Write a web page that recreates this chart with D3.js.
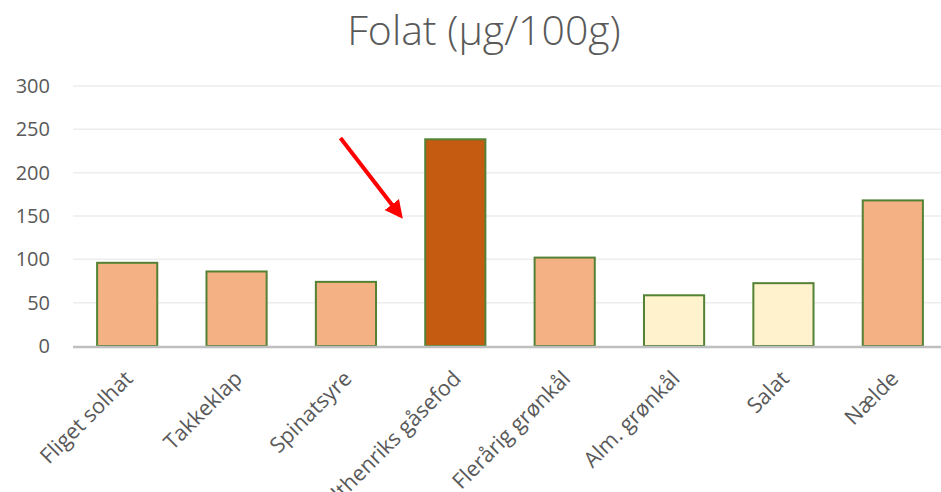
<!DOCTYPE html>
<html>
<head>
<meta charset="utf-8">
<script src="https://cdn.jsdelivr.net/npm/d3@7"></script>
<style>
  body { margin: 0; background: #fff; }
  svg { font-family: "Open Sans", Lato, sans-serif; }
  .tick text { fill: #595959; font-family: "Open Sans", Lato, sans-serif; }
</style>
</head>
<body>
<svg width="941" height="492"></svg>
<script>
var categories = ["Fliget solhat", "Takkeklap", "Spinatsyre", "Stolthenriks gåsefod",
    "Flerårig grønkål", "Alm. grønkål", "Salat", "Nælde"];
var values = [96, 86, 74, 238.5, 102, 58.5, 72.5, 168];
var groups = ["wild", "wild", "wild", "focus", "wild", "cult", "cult", "wild"];
var yTicks = [0, 50, 100, 150, 200, 250, 300];
var title = "Folat (µg/100g)";
// arrow annotation, in data terms: [category position, value]
var arrowFrom = [2.45, 240];
var arrowTo = [3.0, 150];

var fills = { wild: "#F4B183", focus: "#C55A11", cult: "#FFF2CC" };

var svg = d3.select("svg");

var x = d3.scaleBand()
    .domain(categories)
    .range([72.5, 947.5])
    .paddingInner(0.45)
    .paddingOuter(0.225);

var y = d3.scaleLinear()
    .domain([0, 300])
    .range([346, 86]);

svg.append("text")
    .attr("x", 484)
    .attr("y", 45)
    .attr("text-anchor", "middle")
    .style("font-size", "41px")
    .style("font-weight", 300)
    .style("fill", "#595959")
    .text(title);

// grid
svg.append("g")
    .selectAll("line")
    .data(yTicks.slice(1))
    .join("line")
    .attr("x1", 73)
    .attr("x2", 941)
    .attr("y1", function(d) { return y(d); })
    .attr("y2", function(d) { return y(d); })
    .style("stroke", "#EDEDED")
    .style("stroke-width", 1.5);

var yAxis = svg.append("g")
    .attr("transform", "translate(73,0)")
    .call(d3.axisLeft(y).tickValues(yTicks).tickSize(0).tickPadding(23));
yAxis.select(".domain").remove();
yAxis.selectAll("text").style("font-size", "20px");

svg.append("g")
    .selectAll("rect")
    .data(values)
    .join("rect")
    .attr("x", function(d, i) { return x(categories[i]); })
    .attr("y", function(d) { return y(d); })
    .attr("width", x.bandwidth())
    .attr("height", function(d) { return y(0) - y(d); })
    .style("fill", function(d, i) { return fills[groups[i]]; })
    .style("stroke", "#548235")
    .style("stroke-width", 2);

// x axis line
svg.append("line")
    .attr("x1", 73)
    .attr("x2", 941)
    .attr("y1", y(0) + 1)
    .attr("y2", y(0) + 1)
    .style("stroke", "#BFBFBF")
    .style("stroke-width", 2.5);

svg.append("g")
    .selectAll("text")
    .data(categories)
    .join("text")
    .attr("transform", function(d) {
        return "translate(" + (x(d) + x.bandwidth() / 2 + 7) + "," + 380 + ") rotate(-45)";
    })
    .attr("text-anchor", "end")
    .style("font-size", "21.5px")
    .style("fill", "#595959")
    .text(function(d) { return d; });

// arrow
var step = x.step();
function ax(p) { return x(categories[0]) + x.bandwidth() / 2 + p * step - step / 2; }

svg.append("defs").append("marker")
    .attr("id", "head")
    .attr("viewBox", "0 0 10 10")
    .attr("refX", 8)
    .attr("refY", 5)
    .attr("markerWidth", 4.5)
    .attr("markerHeight", 4.5)
    .attr("orient", "auto")
    .append("path")
    .attr("d", "M0,0 L10,5 L0,10 Z")
    .style("fill", "#FF0000");

svg.append("line")
    .attr("x1", ax(arrowFrom[0]))
    .attr("y1", y(arrowFrom[1]))
    .attr("x2", ax(arrowTo[0]))
    .attr("y2", y(arrowTo[1]))
    .style("stroke", "#FF0000")
    .style("stroke-width", 4)
    .attr("marker-end", "url(#head)");
</script>
</body>
</html>
